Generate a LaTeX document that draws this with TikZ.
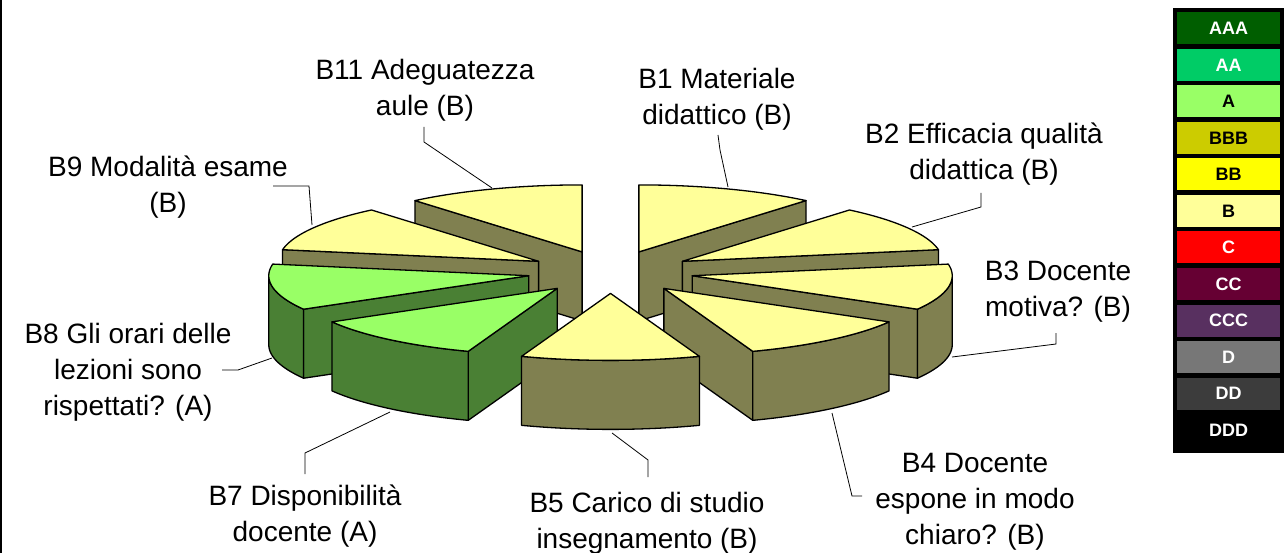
\documentclass[tikz,border=0pt]{standalone}
\usepackage{fontspec}
\setmainfont{Liberation Sans}
\definecolor{pieB}{HTML}{FFFF99}
\definecolor{pieBside}{HTML}{808050}
\definecolor{pieA}{HTML}{99FF66}
\definecolor{pieAside}{HTML}{4A8034}
\definecolor{ratAAA}{HTML}{005E00}
\definecolor{ratAA}{HTML}{00CC66}
\definecolor{ratA}{HTML}{99FF66}
\definecolor{ratBBB}{HTML}{CCCC00}
\definecolor{ratBB}{HTML}{FFFF00}
\definecolor{ratB}{HTML}{FFFF99}
\definecolor{ratC}{HTML}{FF0000}
\definecolor{ratCC}{HTML}{660033}
\definecolor{ratCCC}{HTML}{583060}
\definecolor{ratD}{HTML}{777777}
\definecolor{ratDD}{HTML}{3C3C3C}
\def\cx{610.5}
\def\cy{272}
\def\rx{260}
\def\ry{67}
\def\depth{69}
\def\gap{83}
\def\pointS{({\apx+\rx*cos(\s)},{\apy-\ry*sin(\s)})}
\def\pointE{({\apx+\rx*cos(\e)},{\apy-\ry*sin(\e)})}
\tikzset{
  face/.style={draw=black, line width=1.3pt, line join=round},
  lbl/.style={align=center, font=\fontsize{28}{36}\selectfont, inner sep=0pt, anchor=north},
  leader/.style={draw=black, line width=0.8pt},
  legcell/.style={minimum width=103pt, minimum height=32pt, inner sep=0pt, font=\fontsize{18}{20}\selectfont\bfseries}
}

\begin{document}
\begin{tikzpicture}[x=1pt,y=-1pt]
\useasboundingbox (0,0) rectangle (1284,553);
\draw[line width=2pt] (1,0) -- (1,553);
% Draw the slices, back ones first
\foreach \s/\topc/\sidec in {50/pieB/pieBside, 90/pieB/pieBside, 10/pieB/pieBside, 130/pieB/pieBside, 330/pieB/pieBside, 170/pieA/pieAside, 290/pieB/pieBside, 210/pieA/pieAside, 250/pieB/pieBside}
{
\pgfmathsetmacro\e{\s+40}
\pgfmathsetmacro\apx{\cx+\gap*cos(\s+20)}
\pgfmathsetmacro\apy{\cy-\gap*\ry/\rx*sin(\s+20)}
\pgfmathsetmacro\cosS{cos(\s)}
\pgfmathsetmacro\cosE{cos(\e)}
\pgfmathsetmacro\lo{max(\s,180)}
\pgfmathsetmacro\hi{min(\e,360)}
% Draw the cut face on the start side
\ifdim\cosS pt>0pt
\draw[face,fill=\sidec] (\apx,\apy) -- \pointS -- ++(0,\depth) -- (\apx,{\apy+\depth}) -- cycle;
\fi
% Draw the cut face on the end side
\ifdim\cosE pt<0pt
\draw[face,fill=\sidec] (\apx,\apy) -- \pointE -- ++(0,\depth) -- (\apx,{\apy+\depth}) -- cycle;
\fi
% Draw the round side
\ifdim\lo pt<\hi pt
\draw[face,fill=\sidec] plot[domain=\lo:\hi,samples=25] ({\apx+\rx*cos(\x)},{\apy-\ry*sin(\x)})
  -- plot[domain=\lo:\hi,samples=25] ({\apx+\rx*cos(\lo+\hi-\x)},{\apy-\ry*sin(\lo+\hi-\x)+\depth}) -- cycle;
\fi
% Draw the top
\draw[face,fill=\topc] (\apx,\apy) -- plot[domain=\s:\e,samples=25] ({\apx+\rx*cos(\x)},{\apy-\ry*sin(\x)}) -- cycle;
}
% Labels
\node[lbl] (b11) at (425,59) {B11 Adeguatezza\\aule (B)};
\node[lbl] (b1) at (717,68) {B1 Materiale\\didattico (B)};
\node[lbl] (b2) at (984,123) {B2 Efficacia qualità\\didattica (B)};
\node[lbl] (b3) at (1058,261) {B3 Docente\\motiva? (B)};
\node[lbl] (b4) at (975,453) {B4 Docente\\espone in modo\\chiaro? (B)};
\node[lbl] (b5) at (647,492) {B5 Carico di studio\\insegnamento (B)};
\node[lbl] (b7) at (305,485) {B7 Disponibilità\\docente (A)};
\node[lbl] (b8) at (128,323) {B8 Gli orari delle\\lezioni sono\\rispettati? (A)};
\node[lbl] (b9) at (168,156) {B9 Modalità esame\\(B)};
% Leader lines
\coordinate (b11s) at (424,127); \coordinate (b11k) at (424,142); \coordinate (b11e) at (492,188);
\coordinate (b1s) at (718,135); \coordinate (b1k) at (720,150); \coordinate (b1e) at (728,187);
\coordinate (b2s) at (981,193); \coordinate (b2k) at (981,207); \coordinate (b2e) at (912,227);
\coordinate (b3s) at (1056,333); \coordinate (b3k) at (1056,344); \coordinate (b3e) at (952,357);
\coordinate (b4s) at (862,496); \coordinate (b4k) at (852,496); \coordinate (b4e) at (832,413);
\coordinate (b5s) at (648,477); \coordinate (b5k) at (648,460); \coordinate (b5e) at (612,433);
\coordinate (b7s) at (305,474); \coordinate (b7k) at (305,453); \coordinate (b7e) at (390,412);
\coordinate (b8s) at (222,370); \coordinate (b8k) at (238,370); \coordinate (b8e) at (272,358);
\coordinate (b9s) at (273,186); \coordinate (b9k) at (309,186); \coordinate (b9e) at (312,225);
\foreach \l in {b11,b1,b2,b3,b4,b5,b7,b8,b9}
\draw[leader] (\l s) -- (\l k) -- (\l e);
% Draw the legend
\draw[fill=black] (1173,8) rectangle (1283,452);
\foreach \n/\lab/\fc/\tc in {0/AAA/ratAAA/white, 1/AA/ratAA/white, 2/A/ratA/black, 3/BBB/ratBBB/black, 4/BB/ratBB/black, 5/B/ratB/black, 6/C/ratC/white, 7/CC/ratCC/white, 8/CCC/ratCCC/white, 9/D/ratD/white, 10/DD/ratDD/white, 11/DDD/black/white}
\node[legcell, fill=\fc, text=\tc] (leg\lab) at (1228.5,{28.5+36.5*\n}) {\lab};
\end{tikzpicture}
\end{document}
